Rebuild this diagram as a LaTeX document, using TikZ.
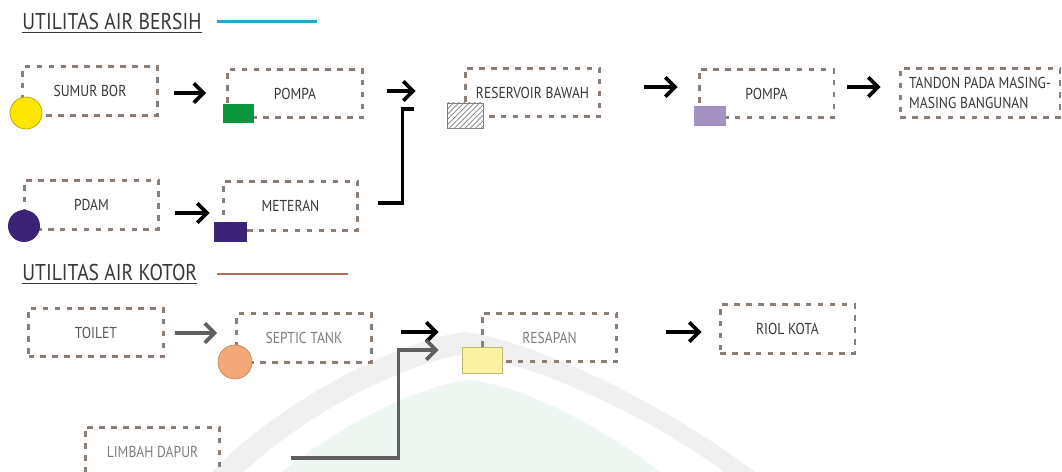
\documentclass[tikz,border=0pt]{standalone}
\usepackage{fontspec}
\setmainfont{PT Sans}[FakeStretch=0.86]
\usetikzlibrary{arrows.meta, patterns}
\definecolor{dashbrown}{RGB}{140,126,116}
\definecolor{darktext}{RGB}{55,55,55}
\definecolor{greytext}{RGB}{125,125,125}
\definecolor{cleanblue}{RGB}{38,165,215}
\definecolor{dirtybrown}{RGB}{176,108,88}
\definecolor{sunyellow}{RGB}{255,230,0}
\definecolor{pumpgreen}{RGB}{10,150,60}
\definecolor{pdampurple}{RGB}{58,34,118}
\definecolor{pumplilac}{RGB}{163,145,196}
\definecolor{septicorange}{RGB}{244,168,122}
\definecolor{paleyellow}{RGB}{250,242,160}
\definecolor{pipegrey}{RGB}{95,95,95}
\definecolor{markband}{RGB}{240,240,240}
\definecolor{markgreen}{RGB}{237,246,240}

\begin{document}
\begin{tikzpicture}[x=0.02cm, y=-0.02cm,
  box/.style={draw=dashbrown, line width=1.7pt, dash pattern=on 3.2pt off 3.6pt,
    minimum width=2.7cm, minimum height=0.97cm, inner sep=0pt,
    font=\fontsize{9}{11}\selectfont, text=darktext},
  title/.style={anchor=base west, inner sep=0pt, text=darktext,
    font=\fontsize{13}{15}\selectfont},
  flow/.style={line width=2.1pt, -{Straight Barb[length=5.5pt,width=11pt]}},
  pipe/.style={line width=2pt}]
\useasboundingbox (0,0) rectangle (1062,472);

% faint watermark behind
\fill[markband] (212,472) .. controls (280,400) and (400,340) .. (465,332)
  .. controls (530,340) and (660,400) .. (755,472) -- cycle;
\fill[white] (244,472) .. controls (310,410) and (410,362) .. (466,354)
  .. controls (525,362) and (640,410) .. (724,472) -- cycle;
\fill[markgreen] (282,472) .. controls (340,425) and (420,385) .. (469,380)
  .. controls (520,385) and (600,425) .. (660,472) -- cycle;

% air bersih
\node[title] (titleA) at (22,30) {\underline{UTILITAS AIR BERSIH}};
\draw[cleanblue, line width=1.7pt] (217,22) -- (317,22);

\node[box] (sumur) at (90,91) {SUMUR BOR};
\node[box] (pompaA) at (295,93.5) {POMPA};
\node[box] (reservoir) at (532.5,92.5) {RESERVOIR BAWAH};
\node[box] (pompaB) at (766.5,93.5) {POMPA};
\node[box, minimum width=3.2cm, align=left] (tandon) at (980,93) {TANDON PADA MASING-\\MASING BANGUNAN};
\node[box] (pdam) at (91.5,205) {PDAM};
\node[box] (meteran) at (290.5,206) {METERAN};

\fill[sunyellow, draw=sunyellow!70!black, line width=0.4pt] (26,113) circle (0.32cm);
\fill[pumpgreen] (223,104) rectangle (254,123);
\fill[white] (447,103) rectangle (483,128);
\fill[pattern=north east lines, pattern color=gray] (447,103) rectangle (483,128);
\draw[gray, line width=0.5pt] (447,103) rectangle (483,128);
\fill[pumplilac] (694,106) rectangle (726,126);
\fill[pdampurple] (24,226) circle (0.32cm);
\fill[pdampurple] (214,222) rectangle (247,242);

\draw[flow] ([shift={(15,2)}]sumur.east) -- ([shift={(-20,-0.5)}]pompaA.west);
\draw[flow] ([shift={(23,-2.5)}]pompaA.east) -- ([shift={(-48,-1.5)}]reservoir.west);
\draw[flow] ([shift={(43,-5.5)}]reservoir.east) -- ([shift={(-20,-6.5)}]pompaB.west);
\draw[flow] ([shift={(12,-6.5)}]pompaB.east) -- ([shift={(-18,-6)}]tandon.west);
\draw[flow] ([shift={(15,8)}]pdam.east) -- ([shift={(-12,7)}]meteran.west);
\draw[pipe] ([shift={(19,-3)}]meteran.east) -- ++(24,0) |- ([shift={(-50,16.5)}]reservoir.west);

% air kotor
\node[title] (titleB) at (22,281) {\underline{UTILITAS AIR KOTOR}};
\draw[dirtybrown, line width=1.7pt] (217,274) -- (348,274);

\node[box, text=darktext!85] (toilet) at (96,332.5) {TOILET};
\node[box, text=greytext] (septic) at (304,338) {SEPTIC TANK};
\node[box, text=greytext] (resapan) at (549.5,337.5) {RESAPAN};
\node[box] (riol) at (787.5,329) {RIOL KOTA};
\node[box, text=greytext] (limbah) at (152.5,451.5) {LIMBAH DAPUR};

\fill[septicorange, draw=septicorange!80!black, line width=0.4pt] (235,362) circle (0.34cm);
\fill[paleyellow, draw=paleyellow!75!black, line width=0.4pt] (462,347) rectangle (502,373);

\draw[flow, pipegrey] ([shift={(10,0.5)}]toilet.east) -- ([shift={(-18,-5)}]septic.west);
\draw[flow] ([shift={(28,-6)}]septic.east) -- ([shift={(-42,-5.5)}]resapan.west);
\draw[flow] ([shift={(48,-5.5)}]resapan.east) -- ([shift={(-17,3)}]riol.west);
\draw[flow, pipegrey] ([shift={(70,6.5)}]limbah.east) -- ++(107,0) |- ([shift={(-42,12.5)}]resapan.west);
\end{tikzpicture}
\end{document}
